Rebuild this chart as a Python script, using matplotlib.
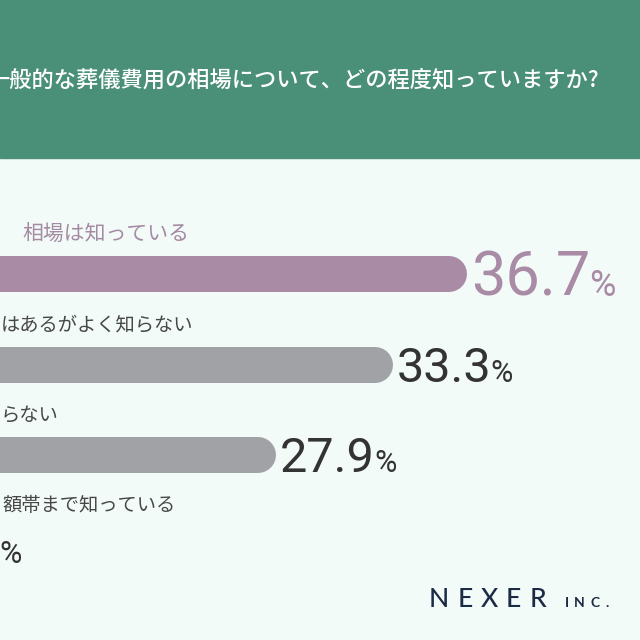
import matplotlib
matplotlib.use('Agg')
import matplotlib.pyplot as plt
from matplotlib.patches import Rectangle
from matplotlib.transforms import IdentityTransform

# the picture is a crop: only the right part of the question and answer texts is visible
title = "一般的な葬儀費用の相場について、どの程度知っていますか?"
labels = ["相場は知っている",
          "はあるがよく知らない",
          "らない",
          "額帯まで知っている"]
values = [36.7, 33.3, 27.9, 2.1]
bar_colors = ["#a98ba6", "#a1a2a6", "#a1a2a6", "#a1a2a6"]
value_colors = ["#a98ba6", "#333333", "#333333", "#333333"]
label_colors = ["#a58aa3", "#474747", "#474747", "#474747"]

W = H = 640
BG = "#f2fbf8"
GREEN = "#4a8f78"
NAVY = "#1c2b45"
CJK = ["Noto Sans CJK JP", "DejaVu Sans"]

# pixel layout of the crop
px_per = 21.68      # pixels per percent
x_zero = 328.8      # 0% sits this far left of the image
row0, row_step = 274, 90.5
bar_h = 36
label_starts = [22, 1, 1, 2]
label_sizes = [15, 13.9, 13.9, 13.9]
num_sizes = [44, 35, 35, 35]
pct_sizes = [26, 22, 22, 22]

fig = plt.figure(figsize=(6.4, 6.4), dpi=100)
fig.patch.set_facecolor(BG)
fig.add_artist(Rectangle((0, 1 - 158 / H), 1, 158 / H, transform=fig.transFigure,
                         color=GREEN, zorder=0))

ax = fig.add_axes([0, 0, 1, 1])
ax.set_facecolor('none')
ax.set_xlim(x_zero / px_per, (W + x_zero) / px_per)
ax.set_ylim((H - row0) / row_step, -row0 / row_step)
ax.axis('off')


def px_to_x(px):
    return (px + x_zero) / px_per


renderer = fig.canvas.get_renderer()

fig.text(599 / W, 1 - 80 / H, title, ha='right', va='center', color='white',
         fontsize=16, family=CJK, fontweight='medium')

r = (bar_h / 2) / px_per
lw = bar_h * 72 / 100
for i, (lab, v) in enumerate(zip(labels, values)):
    ax.plot([0, v - r], [i, i], color=bar_colors[i], lw=lw,
            solid_capstyle='round', zorder=2)

    ax.text(px_to_x(label_starts[i]), i - 40 / row_step, lab, ha='left', va='center',
            fontsize=label_sizes[i], color=label_colors[i], family=CJK)

    cap = 0.711 * num_sizes[i] * 100 / 72
    base = i + (cap / 2) / row_step
    num = ax.text(0, base, f"{v}", ha='left', va='baseline', fontsize=num_sizes[i],
                  color=value_colors[i], family='Roboto')
    pct = ax.text(0, base, "%", ha='left', va='baseline', fontsize=pct_sizes[i],
                  color=value_colors[i], family='Roboto')
    w_num = num.get_window_extent(renderer).width / px_per
    start = v + 4 / px_per
    if start < px_to_x(0):
        # bar ends off the crop: only the "%" of its value peeks in at the left edge
        pct.set_x(px_to_x(-1))
        num.set_x(px_to_x(-1) - w_num + 1 / px_per)
        continue
    num.set_x(start)
    pct.set_x(start + w_num - 1 / px_per)

# logo
for ch, cx in zip("NEXER", [439, 465, 489, 513, 538]):
    fig.text(cx, H - 607, ch, transform=IdentityTransform(), ha='center', va='baseline',
             fontsize=19, color=NAVY, family='Lato', fontweight='medium')
for ch, cx in zip("INC.", [567, 579, 595, 607]):
    fig.text(cx, H - 607, ch, transform=IdentityTransform(), ha='center', va='baseline',
             fontsize=10, color=NAVY, family='Lato', fontweight='bold')

fig.savefig('out.png', dpi=100, facecolor=fig.get_facecolor())
